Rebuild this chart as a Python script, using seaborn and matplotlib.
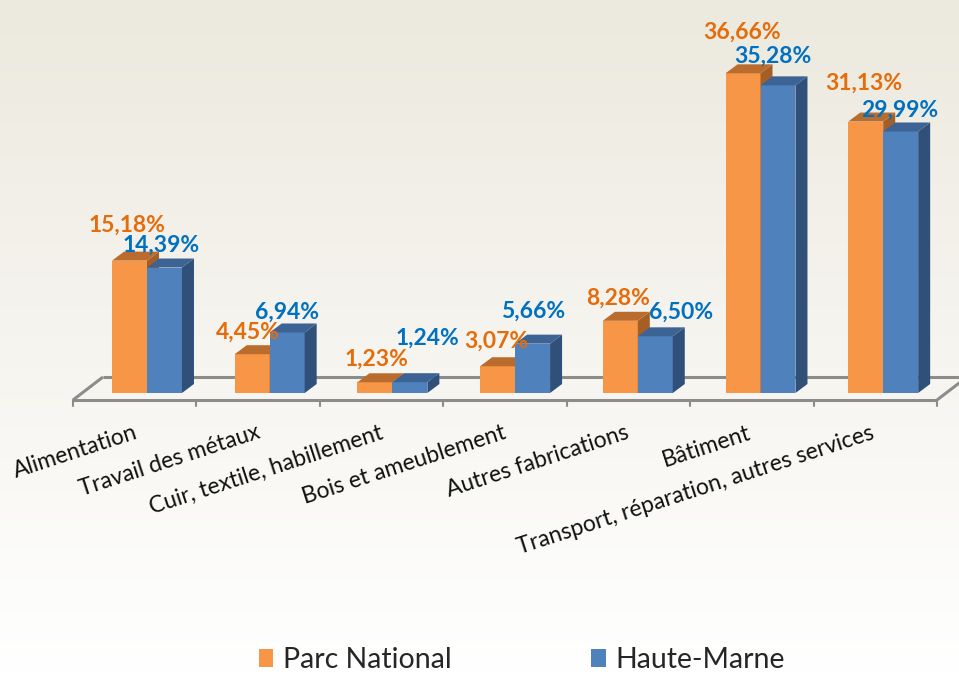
import numpy as np
import pandas as pd
import seaborn as sns
import matplotlib.pyplot as plt
from matplotlib.patches import Polygon

categories = ["Alimentation", "Travail des métaux", "Cuir, textile, habillement",
              "Bois et ameublement", "Autres fabrications", "Bâtiment",
              "Transport, réparation, autres services"]
parc = [15.18, 4.45, 1.23, 3.07, 8.28, 36.66, 31.13]
haute_marne = [14.39, 6.94, 1.24, 5.66, 6.50, 35.28, 29.99]
series = ["Parc National", "Haute-Marne"]

# label nudges in pixels (gap above bar top, sideways shift)
gap_parc = [20, 6, 8, 10, 7, 26, 23]
gap_hm = [7, 5, 28, 17, 9, 14, 6]
shift_parc = [-3, -4, 2, -1, -2, -1, -2]
shift_hm = [-3, 0, 18, 1, 26, -5, -1]

df = pd.DataFrame({
    "secteur": categories * 2,
    "part": parc + haute_marne,
    "serie": [series[0]] * 7 + [series[1]] * 7,
})

sns.set_style("white")
plt.rcParams['font.family'] = ['Lato', 'DejaVu Sans']

W, H = 959, 674
fig = plt.figure(figsize=(W / 100, H / 100), dpi=100)
ax = fig.add_axes([0, 0, 1, 1])

# pixel scale of the plot: x centre of first group, px per category, baseline, px per %
x0, sx, y0, sy = 147, 122.7, 393, 8.72
xlim = ((0 - x0) / sx, (W - x0) / sx)
ylim = ((y0 - H) / sy, y0 / sy)

# background gradient
grad = np.linspace(0, 1, 256).reshape(-1, 1)
ax.imshow(grad, extent=[*xlim, *ylim], aspect="auto",
          cmap=sns.blend_palette(["#ECE9DE", "#FFFFFF"], as_cmap=True),
          origin="upper", zorder=0)

col_front = {"Parc National": "#F79646", "Haute-Marne": "#4F81BD"}
col_top = ["#BA6C2F", "#3D6394"]
col_side = ["#A65E27", "#30507A"]

sns.barplot(data=df, x="secteur", y="part", hue="serie", order=categories,
            hue_order=series, palette=col_front, width=0.57, saturation=1,
            ax=ax, legend=True, zorder=3, linewidth=0)
ax.set_xlim(*xlim)
ax.set_ylim(*ylim)
ax.axis("off")

# floor
fx0, fx1 = (73 - x0) / sx, (937 - x0) / sx
fy = -7 / sy
ddx, ddy = 30 / sx, 23 / sy
fl = dict(color="#8C8C8C", lw=2.2, zorder=1, solid_capstyle="butt")
ax.plot([fx0 + ddx, fx1 + ddx], [fy + ddy, fy + ddy], **fl)
ax.plot([fx0, fx1], [fy, fy], **fl)
ax.plot([fx0, fx0 + ddx], [fy, fy + ddy], **fl)
ax.plot([fx1, fx1 + ddx], [fy, fy + ddy], **fl)
for k in range(8):
    xt = fx0 + k * (fx1 - fx0) / 7
    ax.plot([xt, xt], [fy, fy - 6 / sy], color="#8C8C8C", lw=1.5, zorder=1)

# 3d sides and tops
bx, by = 12 / sx, 9 / sy
for s, cont in enumerate(ax.containers):
    for bar in cont:
        xl = bar.get_x()
        xr = xl + bar.get_width()
        h = bar.get_height()
        bar.set_zorder(3 + 2 * s)
        ax.add_patch(Polygon([(xr, 0), (xr + bx, by), (xr + bx, h + by), (xr, h)],
                             closed=True, color=col_side[s], lw=0, zorder=4 + 2 * s))
        ax.add_patch(Polygon([(xl, h), (xr, h), (xr + bx, h + by), (xl + bx, h + by)],
                             closed=True, color=col_top[s], lw=0, zorder=4 + 2 * s))

# value labels
lab_col = ["#E46C0A", "#0070C0"]
for s, (vals, gaps, shifts) in enumerate([(parc, gap_parc, shift_parc),
                                           (haute_marne, gap_hm, shift_hm)]):
    for bar, v, g, d in zip(ax.containers[s], vals, gaps, shifts):
        xc = bar.get_x() + bar.get_width() / 2 + d / sx
        ax.text(xc, v + by + g / sy, f"{v:.2f}%".replace(".", ","),
                ha="center", va="baseline", fontsize=16.5, fontweight="bold",
                color=lab_col[s], zorder=10)

# category labels
for i, c in enumerate(categories):
    ax.text(i - 10 / sx, (y0 - 432) / sy, c, rotation=18, rotation_mode="anchor",
            ha="right", va="center", fontsize=16.5, color="#111111", zorder=10)

sns.move_legend(ax, "center", bbox_to_anchor=(522 / W, 14 / H), ncol=2,
                frameon=False, fontsize=20.5, title=None, handlelength=0.5,
                handleheight=0.56, handletextpad=0.35, columnspacing=4.9)

fig.savefig("out.png", dpi=100)
